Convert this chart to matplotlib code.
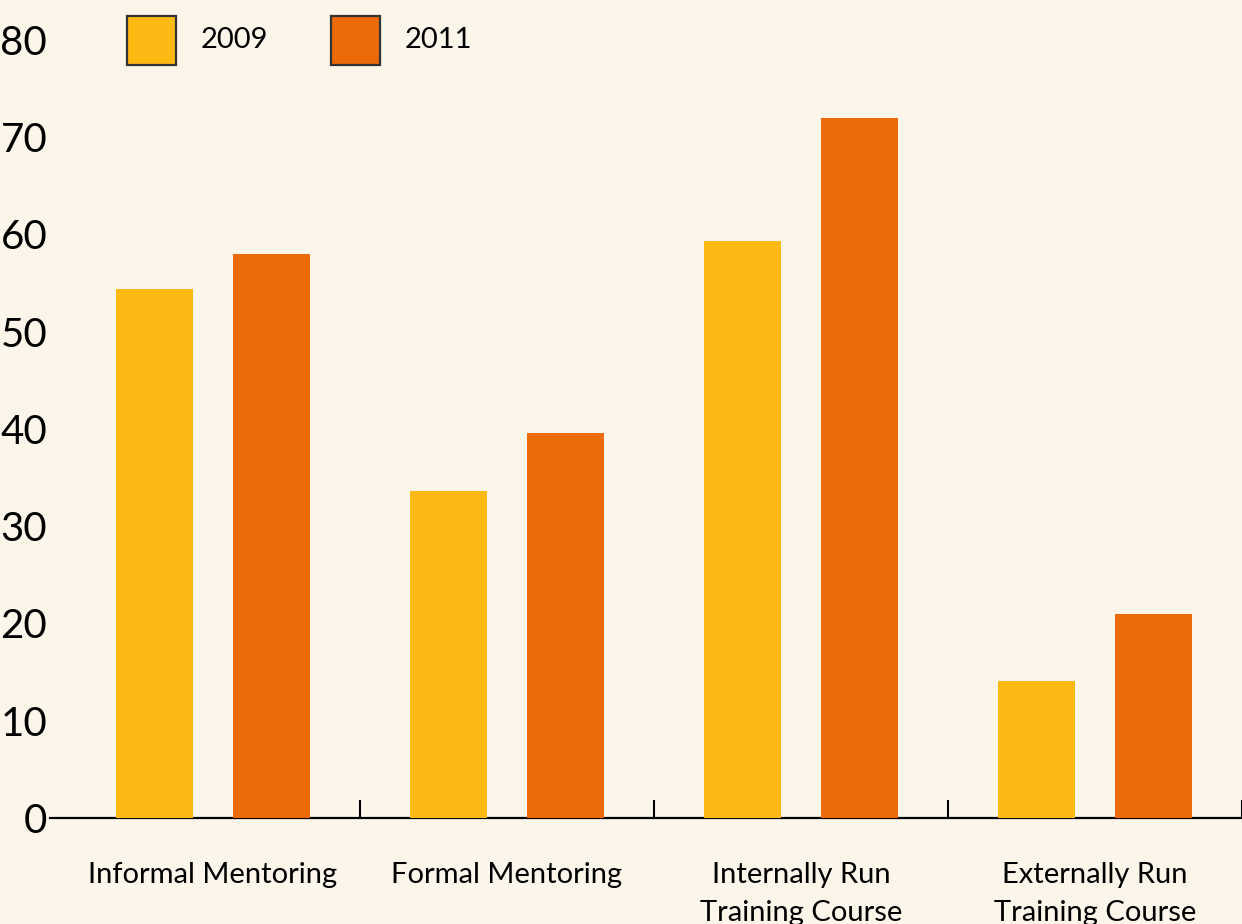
import matplotlib

matplotlib.use("Agg")
import matplotlib.pyplot as plt
from matplotlib.patches import Rectangle
import numpy as np

CATEGORIES = ["Informal Mentoring", "Formal Mentoring",
              "Internally Run\nTraining Course", "Externally Run\nTraining Course"]
SERIES = ["2009", "2011"]
VALUES_2009 = [54.4, 33.6, 59.3, 14.1]
VALUES_2011 = [58.0, 39.6, 72.0, 21.0]
Y_TICKS = [0, 10, 20, 30, 40, 50, 60, 70, 80]

BG = "#FBF5EA"
COLORS = ["#FDB913", "#EC6A08"]
W, H = 1242, 924

plt.rcParams["font.family"] = ["Lato", "DejaVu Sans"]

fig = plt.figure(figsize=(W / 100, H / 100), dpi=100, facecolor=BG)
ax = fig.add_axes([50 / W, 0, 1 - 50 / W, 1])
ax.set_facecolor(BG)

x = np.arange(len(CATEGORIES))
width = 0.262
for off, vals, col, lab in zip([-0.2, 0.2], [VALUES_2009, VALUES_2011], COLORS, SERIES):
    ax.bar(x + off, vals, width, color=col, label=lab, zorder=3)

ax.set_xlim(-0.5 - 16 / 294, 3.5)
ax.set_ylim(-10.9, 84.1)

for s in ["left", "right", "top"]:
    ax.spines[s].set_visible(False)
ax.spines["bottom"].set_position(("data", 0))
ax.spines["bottom"].set_linewidth(1.6)
ax.spines["bottom"].set_zorder(2)

ax.set_xticks(x)
ax.set_xticklabels(CATEGORIES, fontsize=21, linespacing=1.55)
ax.set_xticks(np.arange(0.5, len(CATEGORIES), 1), minor=True)
ax.tick_params(axis="x", which="major", length=0, pad=32)
ax.tick_params(axis="x", which="minor", direction="in", length=13, width=1.5)

ax.set_yticks(Y_TICKS)
ax.set_yticklabels([str(v) for v in Y_TICKS], fontsize=29)
ax.tick_params(axis="y", length=0, pad=2)

# legend: squares with labels in a row at the top
leg_x = [127, 331]
for lx, col, lab in zip(leg_x, COLORS, SERIES):
    fig.patches.append(Rectangle((lx / W, 1 - 65 / H), 49 / W, 49 / H,
                                 transform=fig.transFigure, facecolor=col,
                                 edgecolor="#333333", linewidth=1.6))
    fig.text((lx + 74) / W, 1 - 40 / H, lab, fontsize=21, va="center", ha="left")

fig.savefig("out.png", dpi=100, facecolor=BG)
